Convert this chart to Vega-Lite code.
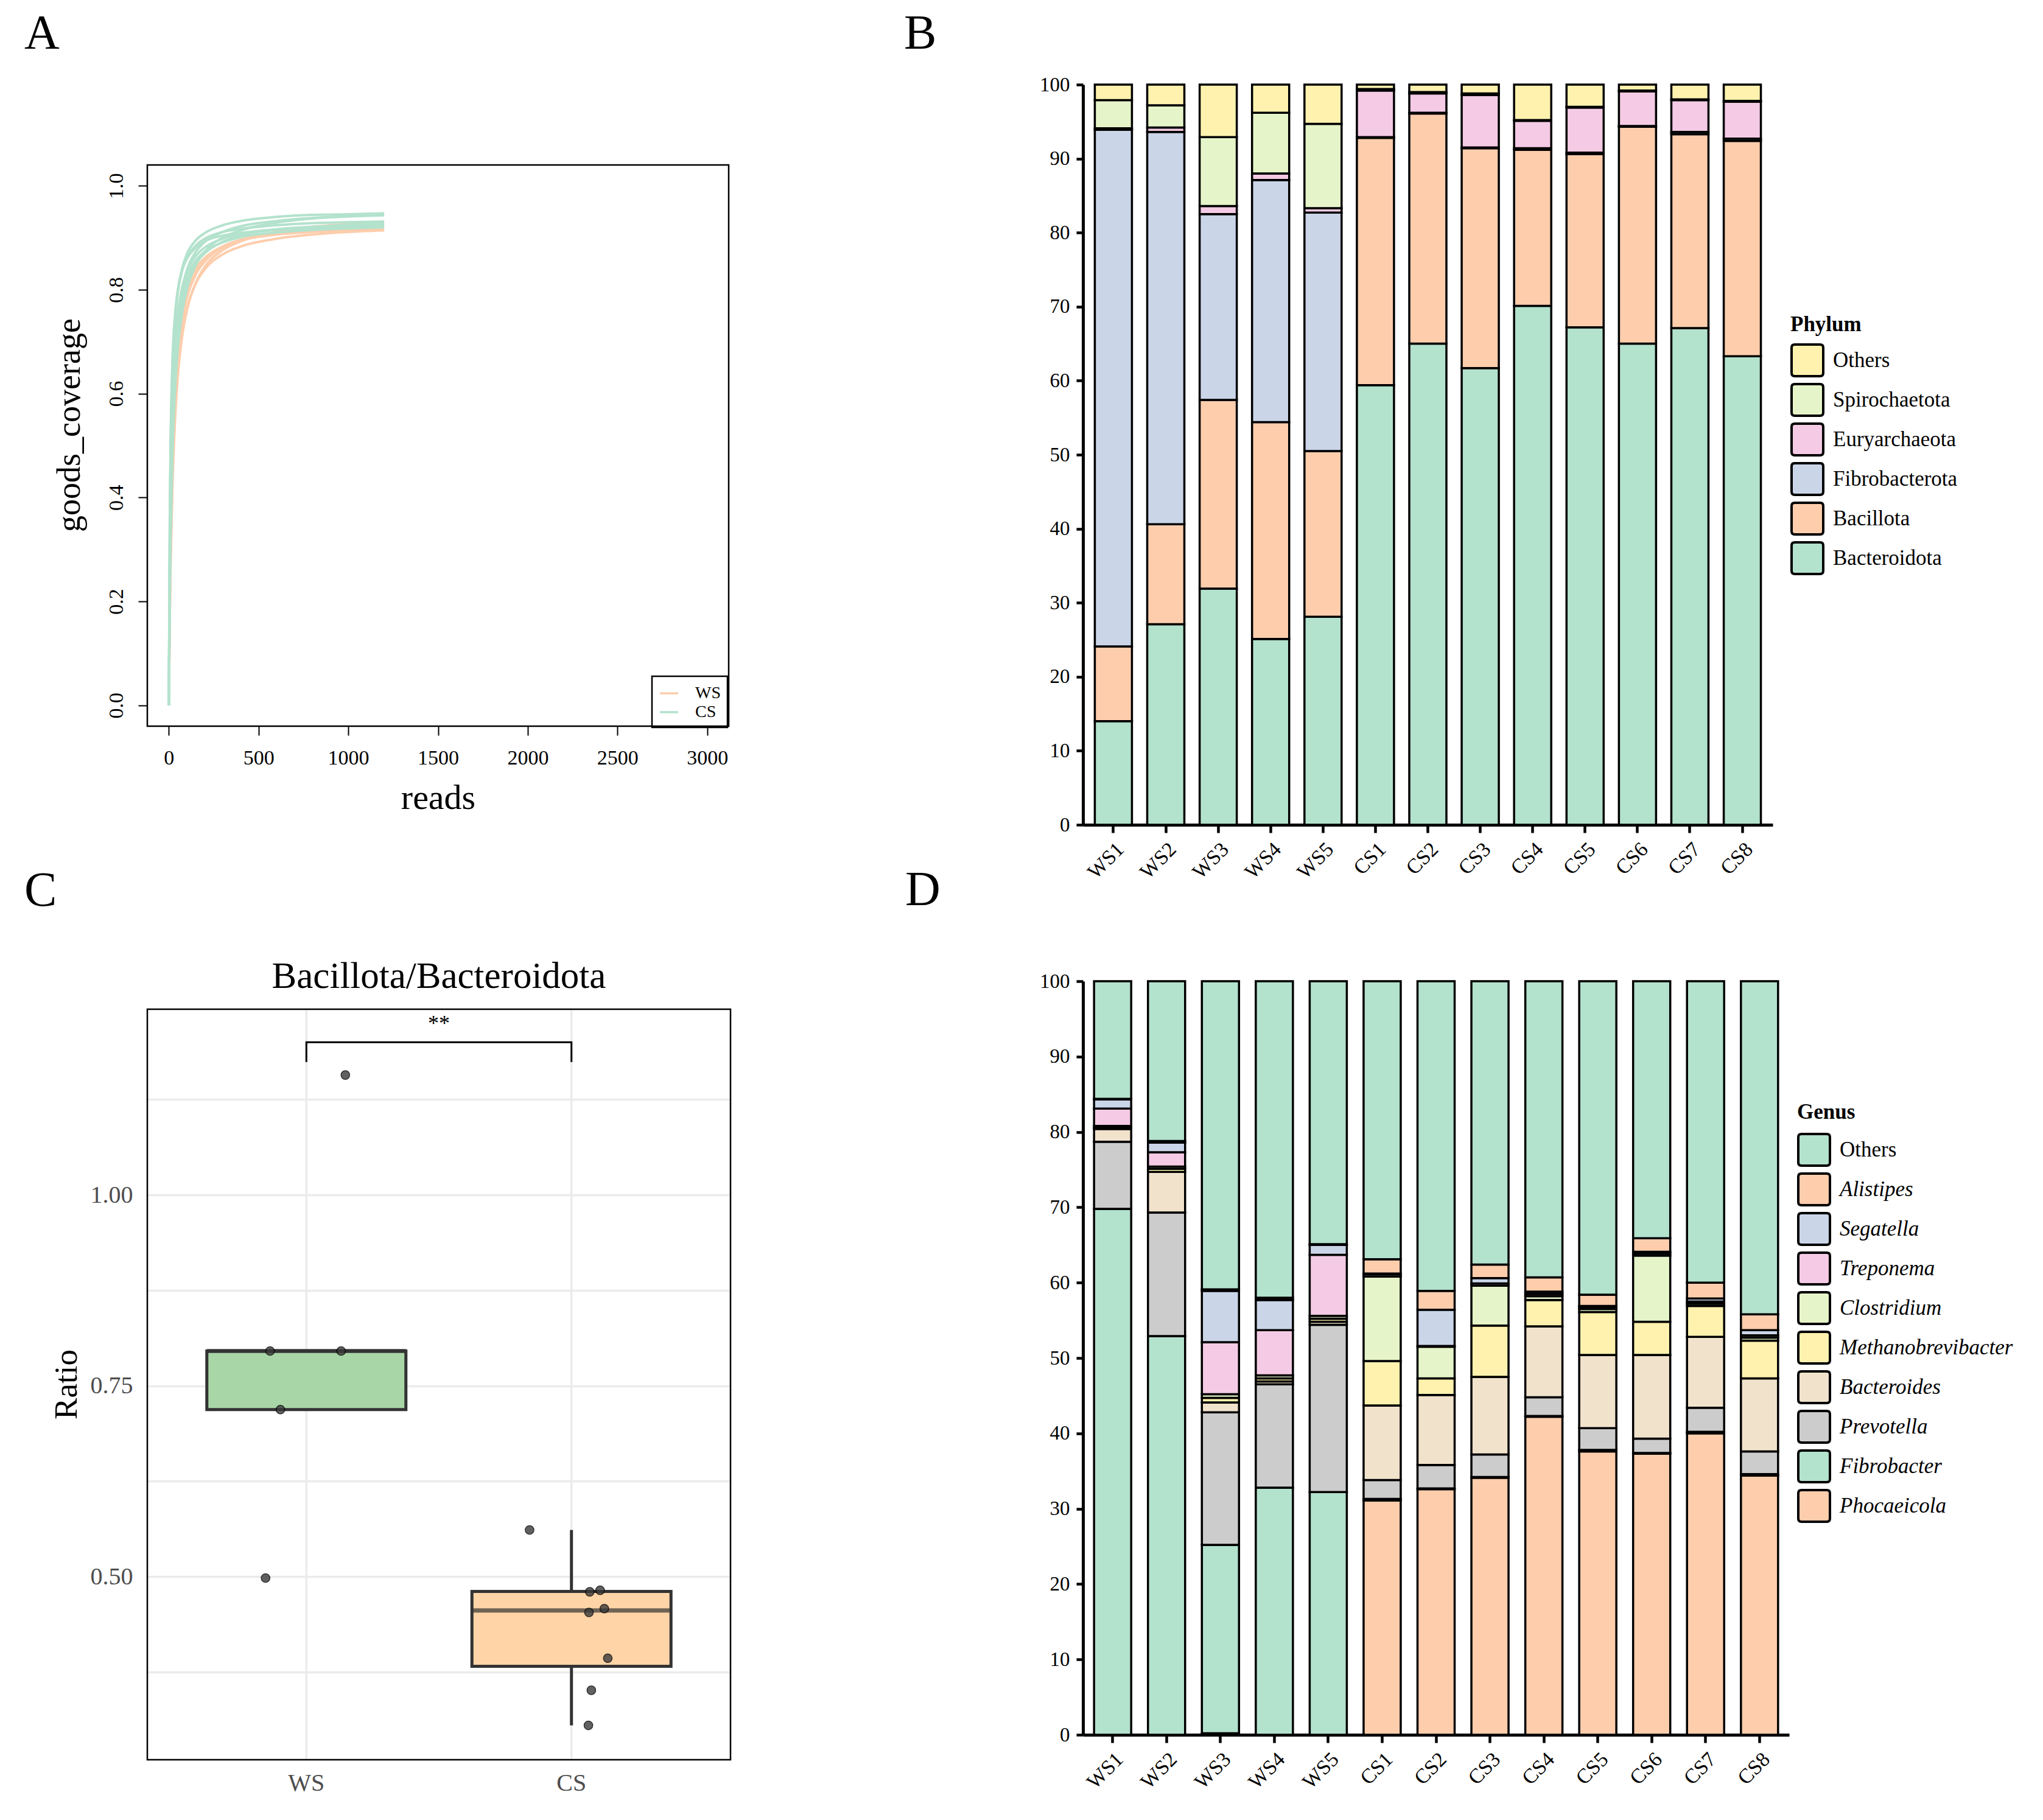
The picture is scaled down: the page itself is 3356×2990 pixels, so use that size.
{
"$schema":"https://vega.github.io/schema/vega-lite/v6.json",
"background":"white",
"padding":{"left":40,"top":16,"right":10,"bottom":10},
"columns":2,
"spacing":{"row":257,"column":579},
"bounds":"flush",
"align":"each",
"datasets":{
"curves":[
{"s":"WS1","g":"WS","r":0,"c":0},{"s":"WS1","g":"WS","r":5,"c":0.172},{"s":"WS1","g":"WS","r":10,"c":0.291},{"s":"WS1","g":"WS","r":20,"c":0.443},{"s":"WS1","g":"WS","r":35,"c":0.572},{"s":"WS1","g":"WS","r":50,"c":0.646},{"s":"WS1","g":"WS","r":75,"c":0.720},{"s":"WS1","g":"WS","r":100,"c":0.763},{"s":"WS1","g":"WS","r":150,"c":0.812},{"s":"WS1","g":"WS","r":200,"c":0.839},{"s":"WS1","g":"WS","r":300,"c":0.868},{"s":"WS1","g":"WS","r":400,"c":0.883},{"s":"WS1","g":"WS","r":600,"c":0.898},{"s":"WS1","g":"WS","r":800,"c":0.906},{"s":"WS1","g":"WS","r":1000,"c":0.911},{"s":"WS1","g":"WS","r":1200,"c":0.914},
{"s":"WS2","g":"WS","r":0,"c":0},{"s":"WS2","g":"WS","r":5,"c":0.203},{"s":"WS2","g":"WS","r":10,"c":0.334},{"s":"WS2","g":"WS","r":20,"c":0.492},{"s":"WS2","g":"WS","r":35,"c":0.618},{"s":"WS2","g":"WS","r":50,"c":0.688},{"s":"WS2","g":"WS","r":75,"c":0.754},{"s":"WS2","g":"WS","r":100,"c":0.793},{"s":"WS2","g":"WS","r":150,"c":0.836},{"s":"WS2","g":"WS","r":200,"c":0.858},{"s":"WS2","g":"WS","r":300,"c":0.883},{"s":"WS2","g":"WS","r":400,"c":0.896},{"s":"WS2","g":"WS","r":600,"c":0.909},{"s":"WS2","g":"WS","r":800,"c":0.915},{"s":"WS2","g":"WS","r":1000,"c":0.919},{"s":"WS2","g":"WS","r":1200,"c":0.922},
{"s":"WS3","g":"WS","r":0,"c":0},{"s":"WS3","g":"WS","r":5,"c":0.158},{"s":"WS3","g":"WS","r":10,"c":0.271},{"s":"WS3","g":"WS","r":20,"c":0.421},{"s":"WS3","g":"WS","r":35,"c":0.553},{"s":"WS3","g":"WS","r":50,"c":0.633},{"s":"WS3","g":"WS","r":75,"c":0.712},{"s":"WS3","g":"WS","r":100,"c":0.759},{"s":"WS3","g":"WS","r":150,"c":0.813},{"s":"WS3","g":"WS","r":200,"c":0.844},{"s":"WS3","g":"WS","r":300,"c":0.876},{"s":"WS3","g":"WS","r":400,"c":0.893},{"s":"WS3","g":"WS","r":600,"c":0.911},{"s":"WS3","g":"WS","r":800,"c":0.921},{"s":"WS3","g":"WS","r":1000,"c":0.926},{"s":"WS3","g":"WS","r":1200,"c":0.930},
{"s":"WS4","g":"WS","r":0,"c":0},{"s":"WS4","g":"WS","r":5,"c":0.188},{"s":"WS4","g":"WS","r":10,"c":0.313},{"s":"WS4","g":"WS","r":20,"c":0.470},{"s":"WS4","g":"WS","r":35,"c":0.598},{"s":"WS4","g":"WS","r":50,"c":0.671},{"s":"WS4","g":"WS","r":75,"c":0.742},{"s":"WS4","g":"WS","r":100,"c":0.783},{"s":"WS4","g":"WS","r":150,"c":0.829},{"s":"WS4","g":"WS","r":200,"c":0.854},{"s":"WS4","g":"WS","r":300,"c":0.881},{"s":"WS4","g":"WS","r":400,"c":0.895},{"s":"WS4","g":"WS","r":600,"c":0.910},{"s":"WS4","g":"WS","r":800,"c":0.917},{"s":"WS4","g":"WS","r":1000,"c":0.921},{"s":"WS4","g":"WS","r":1200,"c":0.925},
{"s":"WS5","g":"WS","r":0,"c":0},{"s":"WS5","g":"WS","r":5,"c":0.221},{"s":"WS5","g":"WS","r":10,"c":0.358},{"s":"WS5","g":"WS","r":20,"c":0.517},{"s":"WS5","g":"WS","r":35,"c":0.638},{"s":"WS5","g":"WS","r":50,"c":0.705},{"s":"WS5","g":"WS","r":75,"c":0.766},{"s":"WS5","g":"WS","r":100,"c":0.802},{"s":"WS5","g":"WS","r":150,"c":0.841},{"s":"WS5","g":"WS","r":200,"c":0.861},{"s":"WS5","g":"WS","r":300,"c":0.883},{"s":"WS5","g":"WS","r":400,"c":0.895},{"s":"WS5","g":"WS","r":600,"c":0.906},{"s":"WS5","g":"WS","r":800,"c":0.911},{"s":"WS5","g":"WS","r":1000,"c":0.915},{"s":"WS5","g":"WS","r":1200,"c":0.918},
{"s":"CS1","g":"CS","r":0,"c":0},{"s":"CS1","g":"CS","r":5,"c":0.318},{"s":"CS1","g":"CS","r":10,"c":0.478},{"s":"CS1","g":"CS","r":20,"c":0.637},{"s":"CS1","g":"CS","r":35,"c":0.743},{"s":"CS1","g":"CS","r":50,"c":0.796},{"s":"CS1","g":"CS","r":75,"c":0.842},{"s":"CS1","g":"CS","r":100,"c":0.868},{"s":"CS1","g":"CS","r":150,"c":0.895},{"s":"CS1","g":"CS","r":200,"c":0.909},{"s":"CS1","g":"CS","r":300,"c":0.924},{"s":"CS1","g":"CS","r":400,"c":0.932},{"s":"CS1","g":"CS","r":600,"c":0.940},{"s":"CS1","g":"CS","r":800,"c":0.944},{"s":"CS1","g":"CS","r":1000,"c":0.945},{"s":"CS1","g":"CS","r":1200,"c":0.947},
{"s":"CS2","g":"CS","r":0,"c":0},{"s":"CS2","g":"CS","r":5,"c":0.251},{"s":"CS2","g":"CS","r":10,"c":0.398},{"s":"CS2","g":"CS","r":20,"c":0.561},{"s":"CS2","g":"CS","r":35,"c":0.681},{"s":"CS2","g":"CS","r":50,"c":0.745},{"s":"CS2","g":"CS","r":75,"c":0.804},{"s":"CS2","g":"CS","r":100,"c":0.837},{"s":"CS2","g":"CS","r":150,"c":0.873},{"s":"CS2","g":"CS","r":200,"c":0.892},{"s":"CS2","g":"CS","r":300,"c":0.911},{"s":"CS2","g":"CS","r":400,"c":0.922},{"s":"CS2","g":"CS","r":600,"c":0.932},{"s":"CS2","g":"CS","r":800,"c":0.938},{"s":"CS2","g":"CS","r":1000,"c":0.941},{"s":"CS2","g":"CS","r":1200,"c":0.943},
{"s":"CS3","g":"CS","r":0,"c":0},{"s":"CS3","g":"CS","r":5,"c":0.335},{"s":"CS3","g":"CS","r":10,"c":0.493},{"s":"CS3","g":"CS","r":20,"c":0.647},{"s":"CS3","g":"CS","r":35,"c":0.746},{"s":"CS3","g":"CS","r":50,"c":0.794},{"s":"CS3","g":"CS","r":75,"c":0.838},{"s":"CS3","g":"CS","r":100,"c":0.860},{"s":"CS3","g":"CS","r":150,"c":0.885},{"s":"CS3","g":"CS","r":200,"c":0.898},{"s":"CS3","g":"CS","r":300,"c":0.911},{"s":"CS3","g":"CS","r":400,"c":0.917},{"s":"CS3","g":"CS","r":600,"c":0.924},{"s":"CS3","g":"CS","r":800,"c":0.928},{"s":"CS3","g":"CS","r":1000,"c":0.930},{"s":"CS3","g":"CS","r":1200,"c":0.931},
{"s":"CS4","g":"CS","r":0,"c":0},{"s":"CS4","g":"CS","r":5,"c":0.275},{"s":"CS4","g":"CS","r":10,"c":0.425},{"s":"CS4","g":"CS","r":20,"c":0.584},{"s":"CS4","g":"CS","r":35,"c":0.696},{"s":"CS4","g":"CS","r":50,"c":0.753},{"s":"CS4","g":"CS","r":75,"c":0.805},{"s":"CS4","g":"CS","r":100,"c":0.834},{"s":"CS4","g":"CS","r":150,"c":0.865},{"s":"CS4","g":"CS","r":200,"c":0.881},{"s":"CS4","g":"CS","r":300,"c":0.898},{"s":"CS4","g":"CS","r":400,"c":0.907},{"s":"CS4","g":"CS","r":600,"c":0.915},{"s":"CS4","g":"CS","r":800,"c":0.920},{"s":"CS4","g":"CS","r":1000,"c":0.923},{"s":"CS4","g":"CS","r":1200,"c":0.925},
{"s":"CS5","g":"CS","r":0,"c":0},{"s":"CS5","g":"CS","r":5,"c":0.357},{"s":"CS5","g":"CS","r":10,"c":0.516},{"s":"CS5","g":"CS","r":20,"c":0.663},{"s":"CS5","g":"CS","r":35,"c":0.755},{"s":"CS5","g":"CS","r":50,"c":0.800},{"s":"CS5","g":"CS","r":75,"c":0.839},{"s":"CS5","g":"CS","r":100,"c":0.859},{"s":"CS5","g":"CS","r":150,"c":0.881},{"s":"CS5","g":"CS","r":200,"c":0.893},{"s":"CS5","g":"CS","r":300,"c":0.904},{"s":"CS5","g":"CS","r":400,"c":0.909},{"s":"CS5","g":"CS","r":600,"c":0.916},{"s":"CS5","g":"CS","r":800,"c":0.919},{"s":"CS5","g":"CS","r":1000,"c":0.921},{"s":"CS5","g":"CS","r":1200,"c":0.922},
{"s":"CS6","g":"CS","r":0,"c":0},{"s":"CS6","g":"CS","r":5,"c":0.224},{"s":"CS6","g":"CS","r":10,"c":0.362},{"s":"CS6","g":"CS","r":20,"c":0.523},{"s":"CS6","g":"CS","r":35,"c":0.645},{"s":"CS6","g":"CS","r":50,"c":0.713},{"s":"CS6","g":"CS","r":75,"c":0.775},{"s":"CS6","g":"CS","r":100,"c":0.810},{"s":"CS6","g":"CS","r":150,"c":0.850},{"s":"CS6","g":"CS","r":200,"c":0.870},{"s":"CS6","g":"CS","r":300,"c":0.892},{"s":"CS6","g":"CS","r":400,"c":0.904},{"s":"CS6","g":"CS","r":600,"c":0.916},{"s":"CS6","g":"CS","r":800,"c":0.921},{"s":"CS6","g":"CS","r":1000,"c":0.925},{"s":"CS6","g":"CS","r":1200,"c":0.928},
{"s":"CS7","g":"CS","r":0,"c":0},{"s":"CS7","g":"CS","r":5,"c":0.192},{"s":"CS7","g":"CS","r":10,"c":0.320},{"s":"CS7","g":"CS","r":20,"c":0.480},{"s":"CS7","g":"CS","r":35,"c":0.611},{"s":"CS7","g":"CS","r":50,"c":0.685},{"s":"CS7","g":"CS","r":75,"c":0.757},{"s":"CS7","g":"CS","r":100,"c":0.800},{"s":"CS7","g":"CS","r":150,"c":0.847},{"s":"CS7","g":"CS","r":200,"c":0.873},{"s":"CS7","g":"CS","r":300,"c":0.900},{"s":"CS7","g":"CS","r":400,"c":0.914},{"s":"CS7","g":"CS","r":600,"c":0.929},{"s":"CS7","g":"CS","r":800,"c":0.937},{"s":"CS7","g":"CS","r":1000,"c":0.941},{"s":"CS7","g":"CS","r":1200,"c":0.945},
{"s":"CS8","g":"CS","r":0,"c":0},{"s":"CS8","g":"CS","r":5,"c":0.259},{"s":"CS8","g":"CS","r":10,"c":0.405},{"s":"CS8","g":"CS","r":20,"c":0.564},{"s":"CS8","g":"CS","r":35,"c":0.678},{"s":"CS8","g":"CS","r":50,"c":0.738},{"s":"CS8","g":"CS","r":75,"c":0.792},{"s":"CS8","g":"CS","r":100,"c":0.823},{"s":"CS8","g":"CS","r":150,"c":0.856},{"s":"CS8","g":"CS","r":200,"c":0.873},{"s":"CS8","g":"CS","r":300,"c":0.891},{"s":"CS8","g":"CS","r":400,"c":0.901},{"s":"CS8","g":"CS","r":600,"c":0.910},{"s":"CS8","g":"CS","r":800,"c":0.915},{"s":"CS8","g":"CS","r":1000,"c":0.918},{"s":"CS8","g":"CS","r":1200,"c":0.920}
],
"phylum":[
{"s":"WS1","p":"Bacteroidota","v":14.0,"o":1},{"s":"WS1","p":"Bacillota","v":10.1,"o":2},{"s":"WS1","p":"Fibrobacterota","v":69.8,"o":3},{"s":"WS1","p":"Euryarchaeota","v":0.2,"o":4},{"s":"WS1","p":"Spirochaetota","v":3.8,"o":5},{"s":"WS1","p":"Others","v":2.1,"o":6},
{"s":"WS2","p":"Bacteroidota","v":27.1,"o":1},{"s":"WS2","p":"Bacillota","v":13.5,"o":2},{"s":"WS2","p":"Fibrobacterota","v":53.0,"o":3},{"s":"WS2","p":"Euryarchaeota","v":0.6,"o":4},{"s":"WS2","p":"Spirochaetota","v":3.0,"o":5},{"s":"WS2","p":"Others","v":2.8,"o":6},
{"s":"WS3","p":"Bacteroidota","v":31.9,"o":1},{"s":"WS3","p":"Bacillota","v":25.5,"o":2},{"s":"WS3","p":"Fibrobacterota","v":25.1,"o":3},{"s":"WS3","p":"Euryarchaeota","v":1.1,"o":4},{"s":"WS3","p":"Spirochaetota","v":9.3,"o":5},{"s":"WS3","p":"Others","v":7.1,"o":6},
{"s":"WS4","p":"Bacteroidota","v":25.1,"o":1},{"s":"WS4","p":"Bacillota","v":29.3,"o":2},{"s":"WS4","p":"Fibrobacterota","v":32.7,"o":3},{"s":"WS4","p":"Euryarchaeota","v":0.9,"o":4},{"s":"WS4","p":"Spirochaetota","v":8.2,"o":5},{"s":"WS4","p":"Others","v":3.8,"o":6},
{"s":"WS5","p":"Bacteroidota","v":28.1,"o":1},{"s":"WS5","p":"Bacillota","v":22.4,"o":2},{"s":"WS5","p":"Fibrobacterota","v":32.2,"o":3},{"s":"WS5","p":"Euryarchaeota","v":0.6,"o":4},{"s":"WS5","p":"Spirochaetota","v":11.4,"o":5},{"s":"WS5","p":"Others","v":5.3,"o":6},
{"s":"CS1","p":"Bacteroidota","v":59.4,"o":1},{"s":"CS1","p":"Bacillota","v":33.4,"o":2},{"s":"CS1","p":"Fibrobacterota","v":0.1,"o":3},{"s":"CS1","p":"Euryarchaeota","v":6.3,"o":4},{"s":"CS1","p":"Spirochaetota","v":0.2,"o":5},{"s":"CS1","p":"Others","v":0.6,"o":6},
{"s":"CS2","p":"Bacteroidota","v":65.0,"o":1},{"s":"CS2","p":"Bacillota","v":31.1,"o":2},{"s":"CS2","p":"Fibrobacterota","v":0.1,"o":3},{"s":"CS2","p":"Euryarchaeota","v":2.6,"o":4},{"s":"CS2","p":"Spirochaetota","v":0.2,"o":5},{"s":"CS2","p":"Others","v":1.0,"o":6},
{"s":"CS3","p":"Bacteroidota","v":61.7,"o":1},{"s":"CS3","p":"Bacillota","v":29.7,"o":2},{"s":"CS3","p":"Fibrobacterota","v":0.1,"o":3},{"s":"CS3","p":"Euryarchaeota","v":7.1,"o":4},{"s":"CS3","p":"Spirochaetota","v":0.2,"o":5},{"s":"CS3","p":"Others","v":1.2,"o":6},
{"s":"CS4","p":"Bacteroidota","v":70.1,"o":1},{"s":"CS4","p":"Bacillota","v":21.1,"o":2},{"s":"CS4","p":"Fibrobacterota","v":0.2,"o":3},{"s":"CS4","p":"Euryarchaeota","v":3.7,"o":4},{"s":"CS4","p":"Spirochaetota","v":0.1,"o":5},{"s":"CS4","p":"Others","v":4.8,"o":6},
{"s":"CS5","p":"Bacteroidota","v":67.2,"o":1},{"s":"CS5","p":"Bacillota","v":23.4,"o":2},{"s":"CS5","p":"Fibrobacterota","v":0.2,"o":3},{"s":"CS5","p":"Euryarchaeota","v":6.1,"o":4},{"s":"CS5","p":"Spirochaetota","v":0.1,"o":5},{"s":"CS5","p":"Others","v":3.0,"o":6},
{"s":"CS6","p":"Bacteroidota","v":65.0,"o":1},{"s":"CS6","p":"Bacillota","v":29.3,"o":2},{"s":"CS6","p":"Fibrobacterota","v":0.1,"o":3},{"s":"CS6","p":"Euryarchaeota","v":4.7,"o":4},{"s":"CS6","p":"Spirochaetota","v":0.1,"o":5},{"s":"CS6","p":"Others","v":0.8,"o":6},
{"s":"CS7","p":"Bacteroidota","v":67.1,"o":1},{"s":"CS7","p":"Bacillota","v":26.2,"o":2},{"s":"CS7","p":"Fibrobacterota","v":0.3,"o":3},{"s":"CS7","p":"Euryarchaeota","v":4.3,"o":4},{"s":"CS7","p":"Spirochaetota","v":0.1,"o":5},{"s":"CS7","p":"Others","v":2.0,"o":6},
{"s":"CS8","p":"Bacteroidota","v":63.3,"o":1},{"s":"CS8","p":"Bacillota","v":29.1,"o":2},{"s":"CS8","p":"Fibrobacterota","v":0.3,"o":3},{"s":"CS8","p":"Euryarchaeota","v":5.0,"o":4},{"s":"CS8","p":"Spirochaetota","v":0.1,"o":5},{"s":"CS8","p":"Others","v":2.2,"o":6}
],
"genus":[
{"s":"WS1","n":"Phocaeicola","v":0.0,"o":1},{"s":"WS1","n":"Fibrobacter","v":69.8,"o":2},{"s":"WS1","n":"Prevotella","v":8.9,"o":3},{"s":"WS1","n":"Bacteroides","v":1.7,"o":4},{"s":"WS1","n":"Methanobrevibacter","v":0.2,"o":5},{"s":"WS1","n":"Clostridium","v":0.2,"o":6},{"s":"WS1","n":"Treponema","v":2.3,"o":7},{"s":"WS1","n":"Segatella","v":1.2,"o":8},{"s":"WS1","n":"Alistipes","v":0.1,"o":9},{"s":"WS1","n":"Others","v":15.6,"o":10},
{"s":"WS2","n":"Phocaeicola","v":0.0,"o":1},{"s":"WS2","n":"Fibrobacter","v":52.9,"o":2},{"s":"WS2","n":"Prevotella","v":16.4,"o":3},{"s":"WS2","n":"Bacteroides","v":5.4,"o":4},{"s":"WS2","n":"Methanobrevibacter","v":0.4,"o":5},{"s":"WS2","n":"Clostridium","v":0.3,"o":6},{"s":"WS2","n":"Treponema","v":1.9,"o":7},{"s":"WS2","n":"Segatella","v":1.3,"o":8},{"s":"WS2","n":"Alistipes","v":0.2,"o":9},{"s":"WS2","n":"Others","v":21.2,"o":10},
{"s":"WS3","n":"Phocaeicola","v":0.2,"o":1},{"s":"WS3","n":"Fibrobacter","v":25.0,"o":2},{"s":"WS3","n":"Prevotella","v":17.6,"o":3},{"s":"WS3","n":"Bacteroides","v":1.3,"o":4},{"s":"WS3","n":"Methanobrevibacter","v":0.6,"o":5},{"s":"WS3","n":"Clostridium","v":0.5,"o":6},{"s":"WS3","n":"Treponema","v":6.9,"o":7},{"s":"WS3","n":"Segatella","v":6.8,"o":8},{"s":"WS3","n":"Alistipes","v":0.2,"o":9},{"s":"WS3","n":"Others","v":40.9,"o":10},
{"s":"WS4","n":"Phocaeicola","v":0.0,"o":1},{"s":"WS4","n":"Fibrobacter","v":32.8,"o":2},{"s":"WS4","n":"Prevotella","v":13.7,"o":3},{"s":"WS4","n":"Bacteroides","v":0.4,"o":4},{"s":"WS4","n":"Methanobrevibacter","v":0.4,"o":5},{"s":"WS4","n":"Clostridium","v":0.4,"o":6},{"s":"WS4","n":"Treponema","v":6.0,"o":7},{"s":"WS4","n":"Segatella","v":4.0,"o":8},{"s":"WS4","n":"Alistipes","v":0.3,"o":9},{"s":"WS4","n":"Others","v":42.0,"o":10},
{"s":"WS5","n":"Phocaeicola","v":0.0,"o":1},{"s":"WS5","n":"Fibrobacter","v":32.2,"o":2},{"s":"WS5","n":"Prevotella","v":22.2,"o":3},{"s":"WS5","n":"Bacteroides","v":0.4,"o":4},{"s":"WS5","n":"Methanobrevibacter","v":0.4,"o":5},{"s":"WS5","n":"Clostridium","v":0.4,"o":6},{"s":"WS5","n":"Treponema","v":8.1,"o":7},{"s":"WS5","n":"Segatella","v":1.3,"o":8},{"s":"WS5","n":"Alistipes","v":0.1,"o":9},{"s":"WS5","n":"Others","v":34.9,"o":10},
{"s":"CS1","n":"Phocaeicola","v":31.1,"o":1},{"s":"CS1","n":"Fibrobacter","v":0.2,"o":2},{"s":"CS1","n":"Prevotella","v":2.5,"o":3},{"s":"CS1","n":"Bacteroides","v":9.9,"o":4},{"s":"CS1","n":"Methanobrevibacter","v":5.9,"o":5},{"s":"CS1","n":"Clostridium","v":11.2,"o":6},{"s":"CS1","n":"Treponema","v":0.3,"o":7},{"s":"CS1","n":"Segatella","v":0.1,"o":8},{"s":"CS1","n":"Alistipes","v":1.9,"o":9},{"s":"CS1","n":"Others","v":36.9,"o":10},
{"s":"CS2","n":"Phocaeicola","v":32.6,"o":1},{"s":"CS2","n":"Fibrobacter","v":0.1,"o":2},{"s":"CS2","n":"Prevotella","v":3.1,"o":3},{"s":"CS2","n":"Bacteroides","v":9.3,"o":4},{"s":"CS2","n":"Methanobrevibacter","v":2.2,"o":5},{"s":"CS2","n":"Clostridium","v":4.2,"o":6},{"s":"CS2","n":"Treponema","v":0.1,"o":7},{"s":"CS2","n":"Segatella","v":4.8,"o":8},{"s":"CS2","n":"Alistipes","v":2.5,"o":9},{"s":"CS2","n":"Others","v":41.1,"o":10},
{"s":"CS3","n":"Phocaeicola","v":34.1,"o":1},{"s":"CS3","n":"Fibrobacter","v":0.1,"o":2},{"s":"CS3","n":"Prevotella","v":3.0,"o":3},{"s":"CS3","n":"Bacteroides","v":10.3,"o":4},{"s":"CS3","n":"Methanobrevibacter","v":6.8,"o":5},{"s":"CS3","n":"Clostridium","v":5.3,"o":6},{"s":"CS3","n":"Treponema","v":0.3,"o":7},{"s":"CS3","n":"Segatella","v":0.7,"o":8},{"s":"CS3","n":"Alistipes","v":1.8,"o":9},{"s":"CS3","n":"Others","v":37.6,"o":10},
{"s":"CS4","n":"Phocaeicola","v":42.2,"o":1},{"s":"CS4","n":"Fibrobacter","v":0.1,"o":2},{"s":"CS4","n":"Prevotella","v":2.5,"o":3},{"s":"CS4","n":"Bacteroides","v":9.4,"o":4},{"s":"CS4","n":"Methanobrevibacter","v":3.5,"o":5},{"s":"CS4","n":"Clostridium","v":0.5,"o":6},{"s":"CS4","n":"Treponema","v":0.3,"o":7},{"s":"CS4","n":"Segatella","v":0.3,"o":8},{"s":"CS4","n":"Alistipes","v":1.9,"o":9},{"s":"CS4","n":"Others","v":39.3,"o":10},
{"s":"CS5","n":"Phocaeicola","v":37.6,"o":1},{"s":"CS5","n":"Fibrobacter","v":0.2,"o":2},{"s":"CS5","n":"Prevotella","v":2.9,"o":3},{"s":"CS5","n":"Bacteroides","v":9.7,"o":4},{"s":"CS5","n":"Methanobrevibacter","v":5.7,"o":5},{"s":"CS5","n":"Clostridium","v":0.4,"o":6},{"s":"CS5","n":"Treponema","v":0.2,"o":7},{"s":"CS5","n":"Segatella","v":0.2,"o":8},{"s":"CS5","n":"Alistipes","v":1.5,"o":9},{"s":"CS5","n":"Others","v":41.6,"o":10},
{"s":"CS6","n":"Phocaeicola","v":37.3,"o":1},{"s":"CS6","n":"Fibrobacter","v":0.1,"o":2},{"s":"CS6","n":"Prevotella","v":1.9,"o":3},{"s":"CS6","n":"Bacteroides","v":11.1,"o":4},{"s":"CS6","n":"Methanobrevibacter","v":4.4,"o":5},{"s":"CS6","n":"Clostridium","v":8.8,"o":6},{"s":"CS6","n":"Treponema","v":0.3,"o":7},{"s":"CS6","n":"Segatella","v":0.2,"o":8},{"s":"CS6","n":"Alistipes","v":1.8,"o":9},{"s":"CS6","n":"Others","v":34.1,"o":10},
{"s":"CS7","n":"Phocaeicola","v":40.0,"o":1},{"s":"CS7","n":"Fibrobacter","v":0.2,"o":2},{"s":"CS7","n":"Prevotella","v":3.2,"o":3},{"s":"CS7","n":"Bacteroides","v":9.4,"o":4},{"s":"CS7","n":"Methanobrevibacter","v":4.1,"o":5},{"s":"CS7","n":"Clostridium","v":0.3,"o":6},{"s":"CS7","n":"Treponema","v":0.3,"o":7},{"s":"CS7","n":"Segatella","v":0.4,"o":8},{"s":"CS7","n":"Alistipes","v":2.1,"o":9},{"s":"CS7","n":"Others","v":40.0,"o":10},
{"s":"CS8","n":"Phocaeicola","v":34.4,"o":1},{"s":"CS8","n":"Fibrobacter","v":0.2,"o":2},{"s":"CS8","n":"Prevotella","v":3.0,"o":3},{"s":"CS8","n":"Bacteroides","v":9.7,"o":4},{"s":"CS8","n":"Methanobrevibacter","v":5.0,"o":5},{"s":"CS8","n":"Clostridium","v":0.4,"o":6},{"s":"CS8","n":"Treponema","v":0.3,"o":7},{"s":"CS8","n":"Segatella","v":0.7,"o":8},{"s":"CS8","n":"Alistipes","v":2.1,"o":9},{"s":"CS8","n":"Others","v":44.2,"o":10}
],
"ratio":[
{"g":"WS","r":1.157,"j":0.147},{"g":"WS","r":0.7955,"j":-0.137},{"g":"WS","r":0.7955,"j":0.131},{"g":"WS","r":0.7187,"j":-0.098},{"g":"WS","r":0.498,"j":-0.154},
{"g":"CS","r":0.561,"j":-0.158},{"g":"CS","r":0.480,"j":0.069},{"g":"CS","r":0.482,"j":0.108},{"g":"CS","r":0.453,"j":0.066},{"g":"CS","r":0.458,"j":0.124},{"g":"CS","r":0.393,"j":0.137},{"g":"CS","r":0.351,"j":0.075},{"g":"CS","r":0.305,"j":0.064}
]
},
"concat":[
{
"width":955,"height":1054,
"title":{"text":"A","anchor":"start","frame":"group","dx":-202,"offset":-21,"baseline":"alphabetic","fontSize":80,"fontWeight":"normal","font":"Liberation Serif","color":"black"},
"layer":[
{"data":{"values":[{}]},"mark":{"type":"rect","fill":"white","fillOpacity":0,"stroke":"black","strokeWidth":2.5},
 "encoding":{"y":{"datum":-0.04,"type":"quantitative","title":"goods_coverage"},"y2":{"datum":1.04}}},
{"data":{"name":"curves"},"transform":[{"filter":"datum.g == 'WS'"}],
 "mark":{"type":"line","strokeWidth":4,"interpolate":"monotone"},
 "encoding":{
  "x":{"field":"r","type":"quantitative","title":"reads","scale":{"domain":[-120,3120],"nice":false,"zero":false},
   "axis":{"values":[0,500,1000,1500,2000,2500,3000],"format":"d","title":"reads","titleFontSize":58,"titleFontWeight":"normal","titleY":135,"titleBaseline":"alphabetic","labelFontSize":34,"labelPadding":20,"tickSize":15,"tickWidth":2,"domain":false,"grid":false,"labelFlush":false}},
  "y":{"field":"c","type":"quantitative","title":"goods_coverage","scale":{"domain":[-0.04,1.1946],"nice":false,"zero":false},
   "axis":{"values":[0,0.2,0.4,0.6,0.8,1],"format":".1f","labelAngle":270,"labelAlign":"center","labelBaseline":"alphabetic","labelPadding":26,"labelFontSize":34,"tickSize":15,"tickWidth":2,"domain":false,"grid":false,"labelFlush":false,"title":"goods_coverage","titleFontSize":54,"titleFontWeight":"normal","titleAngle":270,"titleX":-101,"titleY":559,"titleBaseline":"bottom","titleAlign":"center"}},
  "color":{"field":"g","type":"nominal","scale":{"domain":["WS","CS"],"range":["#FDCDAC","#B3E2CD"]},
   "legend":{"title":null,"orient":"none","legendX":829,"legendY":972,"padding":11,"strokeColor":"black","symbolType":"stroke","symbolSize":900,"symbolStrokeWidth":3.5,"labelFontSize":28,"labelFont":"Liberation Serif","labelColor":"black","labelOffset":26,"rowPadding":0,
    "encode":{"legend":{"update":{"strokeWidth":{"value":2.5}}}}}},
  "detail":{"field":"s","type":"nominal"}}},
{"data":{"name":"curves"},"transform":[{"filter":"datum.g == 'CS'"}],
 "mark":{"type":"line","strokeWidth":4,"interpolate":"monotone"},
 "encoding":{
  "x":{"field":"r","type":"quantitative","title":"reads"},
  "y":{"field":"c","type":"quantitative","title":"goods_coverage"},
  "color":{"field":"g","type":"nominal"},
  "detail":{"field":"s","type":"nominal"}}}
]
},
{
"width":1133,"height":1216,
"title":{"text":"B","anchor":"start","frame":"group","dx":-294,"offset":-37,"baseline":"alphabetic","fontSize":80,"fontWeight":"normal","font":"Liberation Serif","color":"black"},
"data":{"name":"phylum"},
"mark":{"type":"bar","stroke":"black","strokeWidth":3.5,"size":61},
"encoding":{
 "x":{"field":"s","type":"nominal","sort":["WS1","WS2","WS3","WS4","WS5","CS1","CS2","CS3","CS4","CS5","CS6","CS7","CS8"],"scale":{"type":"band","paddingInner":0.3,"paddingOuter":0.23},
  "axis":{"title":null,"labelAngle":-45,"labelAlign":"right","labelBaseline":"top","labelFontSize":34,"labelPadding":10,"tickSize":13,"tickWidth":4.5,"domainWidth":5}},
 "y":{"field":"v","type":"quantitative","stack":"zero","scale":{"domain":[0,100],"nice":false},
  "axis":{"title":null,"values":[0,10,20,30,40,50,60,70,80,90,100],"labelFontSize":33,"tickSize":11,"tickWidth":4.5,"domainWidth":5,"labelPadding":11,"grid":false}},
 "fill":{"field":"p","type":"nominal","scale":{"domain":["Others","Spirochaetota","Euryarchaeota","Fibrobacterota","Bacillota","Bacteroidota"],"range":["#FFF2AE","#E6F5C9","#F4CAE4","#CBD5E8","#FDCDAC","#B3E2CD"]},
  "legend":{"title":"Phylum","orient":"none","legendX":1162,"legendY":377,"padding":0,"titleFontSize":35,"titleFontWeight":"bold","titleFont":"Liberation Serif","titleColor":"black","titlePadding":13,"labelFontSize":35,"labelFont":"Liberation Serif","labelColor":"black","labelOffset":14,"labelLimit":400,"symbolType":"M-0.8,-1L0.8,-1Q1,-1,1,-0.8L1,0.8Q1,1,0.8,1L-0.8,1Q-1,1,-1,0.8L-1,-0.8Q-1,-1,-0.8,-1Z","symbolSize":2704,"symbolStrokeColor":"black","symbolStrokeWidth":4,"symbolOpacity":1,"rowPadding":-3}},
 "order":{"field":"o","type":"quantitative"}
}
},
{
"width":958,"height":1279,
"title":{"text":"C","anchor":"start","frame":"group","dx":-202,"offset":6,"baseline":"alphabetic","fontSize":80,"fontWeight":"normal","font":"Liberation Serif","color":"black"},
"layer":[
{"data":{"values":[{"g":"WS"},{"g":"CS"}]},"mark":{"type":"rule","color":"#EBEBEB","strokeWidth":3.5},
 "encoding":{
  "x":{"field":"g","type":"nominal","title":null,"scale":{"domain":["WS","CS"],"paddingInner":0,"paddingOuter":0.1},
   "axis":{"title":null,"labelAngle":0,"labelFontSize":40,"labelColor":"#4D4D4D","labelPadding":18,"ticks":false,"tickSize":0,"domain":false,"grid":false}},
  "y":{"datum":0.26,"type":"quantitative","title":"Ratio","scale":{"domain":[0.26,1.2799],"nice":false,"zero":false},
   "axis":{"values":[0.375,0.5,0.625,0.75,0.875,1,1.125],"labelExpr":"(datum.value == 0.5 || datum.value == 0.75 || datum.value == 1) ? format(datum.value, '.2f') : ''","grid":true,"gridColor":"#EBEBEB","gridWidth":3.5,"ticks":false,"tickSize":0,"domain":false,"labelFontSize":40,"labelColor":"#4D4D4D","labelPadding":24,"title":"Ratio","titleFontSize":53,"titleFontWeight":"normal","titleX":-117,"titleY":662,"titleAngle":270,"titleBaseline":"alphabetic","titleAlign":"center"}},
  "y2":{"datum":1.2432}}},
{"data":{"values":[{}]},"mark":{"type":"rect","fill":"white","fillOpacity":0,"stroke":"black","strokeWidth":2.5},
 "encoding":{"y":{"datum":0.26,"type":"quantitative","title":"Ratio"},"y2":{"datum":1.2432}}},
{"data":{"name":"ratio"},"transform":[{"filter":"datum.g == 'WS'"}],
 "mark":{"type":"boxplot","extent":1.5,"size":327,"outliers":false,"ticks":false,"color":"#A9D6A7","box":{"color":"#A9D6A7","stroke":"#333333","strokeWidth":5},"median":{"color":"#333333","thickness":7},"rule":{"color":"#333333","strokeWidth":5}},
 "encoding":{"x":{"field":"g","type":"nominal","title":null},"y":{"field":"r","type":"quantitative","title":"Ratio"}}},
{"data":{"name":"ratio"},"transform":[{"filter":"datum.g == 'CS'"}],
 "mark":{"type":"boxplot","extent":1.5,"size":327,"outliers":false,"ticks":false,"color":"#FFD4A6","box":{"color":"#FFD4A6","stroke":"#333333","strokeWidth":5},"median":{"color":"#333333","thickness":7},"rule":{"color":"#333333","strokeWidth":5}},
 "encoding":{"x":{"field":"g","type":"nominal","title":null},"y":{"field":"r","type":"quantitative","title":"Ratio"}}},
{"data":{"name":"ratio"},
 "mark":{"type":"point","filled":true,"size":200,"color":"#3a3a3a","opacity":0.8,"stroke":"black","strokeWidth":1.5},
 "encoding":{
  "x":{"field":"g","type":"nominal","title":null},
  "xOffset":{"field":"j","type":"quantitative","scale":{"domain":[-0.5,0.5],"range":[0,435.45]}},
  "y":{"field":"r","type":"quantitative","title":"Ratio"}}},
{"data":{"values":[{"g":"WS","v":1.174,"k":1},{"g":"WS","v":1.2,"k":2},{"g":"CS","v":1.2,"k":3},{"g":"CS","v":1.174,"k":4}]},
 "mark":{"type":"line","color":"black","strokeWidth":3},
 "encoding":{"x":{"field":"g","type":"nominal","title":null},"y":{"field":"v","type":"quantitative","title":"Ratio"},"order":{"field":"k","type":"quantitative"}}},
{"data":{"values":[{"g":"WS","j":0.5,"v":1.215,"t":"**"}]},
 "mark":{"type":"text","fontSize":36,"font":"Liberation Serif","baseline":"alphabetic","align":"center","color":"black"},
 "encoding":{"x":{"field":"g","type":"nominal","title":null},"xOffset":{"field":"j","type":"quantitative"},"y":{"field":"v","type":"quantitative","title":"Ratio"},"text":{"field":"t"}}},
{"data":{"values":[{"g":"WS","j":0.5,"v":1.271,"t":"Bacillota/Bacteroidota"}]},
 "mark":{"type":"text","fontSize":61,"font":"Liberation Serif","baseline":"alphabetic","align":"center","color":"black"},
 "encoding":{"x":{"field":"g","type":"nominal","title":null},"xOffset":{"field":"j","type":"quantitative"},"y":{"field":"v","type":"quantitative","title":"Ratio"},"text":{"field":"t"}}}
]
},
{
"width":1160,"height":1238,
"title":{"text":"D","anchor":"start","frame":"group","dx":-292,"offset":29,"baseline":"alphabetic","fontSize":80,"fontWeight":"normal","font":"Liberation Serif","color":"black"},
"data":{"name":"genus"},
"mark":{"type":"bar","stroke":"black","strokeWidth":3.5,"size":61},
"encoding":{
 "x":{"field":"s","type":"nominal","sort":["WS1","WS2","WS3","WS4","WS5","CS1","CS2","CS3","CS4","CS5","CS6","CS7","CS8"],"scale":{"type":"band","paddingInner":0.3,"paddingOuter":0.2},
  "axis":{"title":null,"labelAngle":-45,"labelAlign":"right","labelBaseline":"top","labelFontSize":34,"labelPadding":10,"tickSize":13,"tickWidth":4.5,"domainWidth":5}},
 "y":{"field":"v","type":"quantitative","stack":"zero","scale":{"domain":[0,100],"nice":false},
  "axis":{"title":null,"values":[0,10,20,30,40,50,60,70,80,90,100],"labelFontSize":33,"tickSize":11,"tickWidth":4.5,"domainWidth":5,"labelPadding":11,"grid":false}},
 "fill":{"field":"n","type":"nominal","scale":{"domain":["Others","Alistipes","Segatella","Treponema","Clostridium","Methanobrevibacter","Bacteroides","Prevotella","Fibrobacter","Phocaeicola"],"range":["#B3E2CD","#FDCDAC","#CBD5E8","#F4CAE4","#E6F5C9","#FFF2AE","#F1E2CC","#CCCCCC","#B3E2CD","#FDCDAC"]},
  "legend":{"title":"Genus","orient":"none","legendX":1173,"legendY":198,"padding":0,"titleFontSize":35,"titleFontWeight":"bold","titleFont":"Liberation Serif","titleColor":"black","titlePadding":16,"labelFontSize":35,"labelFont":"Liberation Serif","labelColor":"black","labelOffset":14,"symbolType":"M-0.8,-1L0.8,-1Q1,-1,1,-0.8L1,0.8Q1,1,0.8,1L-0.8,1Q-1,1,-1,0.8L-1,-0.8Q-1,-1,-0.8,-1Z","symbolSize":2704,"symbolStrokeColor":"black","symbolStrokeWidth":4,"symbolOpacity":1,"rowPadding":-3,"labelLimit":400,
   "encode":{"labels":{"update":{"fontStyle":{"signal":"datum.label == 'Others' ? 'normal' : 'italic'"}}}}}},
 "order":{"field":"o","type":"quantitative"}
}
}
],
"resolve":{"scale":{"color":"independent","fill":"independent","x":"independent","y":"independent"},"legend":{"color":"independent","fill":"independent"}},
"config":{
 "font":"Liberation Serif",
 "view":{"stroke":null},
 "axis":{"labelFont":"Liberation Serif","titleFont":"Liberation Serif","labelColor":"black","titleColor":"black","tickColor":"black","domainColor":"black","titleFontWeight":"normal"},
 "legend":{"labelFont":"Liberation Serif","titleFont":"Liberation Serif"},
 "title":{"font":"Liberation Serif","fontWeight":"normal","color":"black"},
 "text":{"font":"Liberation Serif"}
}
}
